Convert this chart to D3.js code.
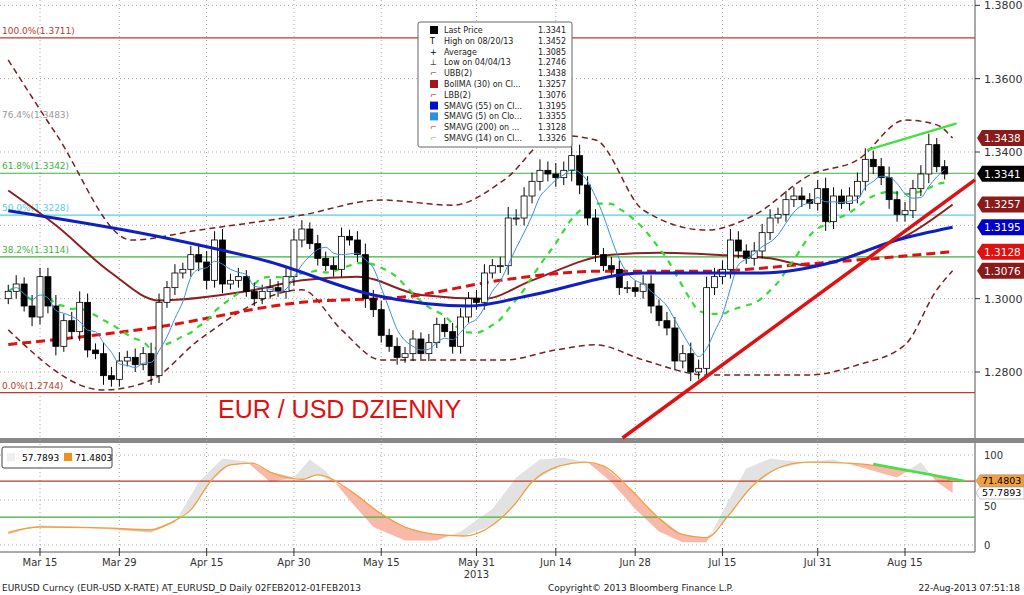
<!DOCTYPE html>
<html><head><meta charset="utf-8">
<script src="https://cdn.jsdelivr.net/npm/d3@7"></script>
<style>body{margin:0;background:#fff}svg{display:block;font-family:"DejaVu Sans",sans-serif}</style>
</head><body><svg id="c" width="1024" height="595"></svg>
<script>
// ---------- data ----------
const closes=[1.302,1.304,1.298,1.295,1.306, 1.298,1.287,1.294,1.291,1.299, 1.286,1.285,1.279,1.278,1.283,
1.284,1.282,1.285,1.279,1.299, 1.303,1.307,1.308,1.312,1.310, 1.305,1.316,1.304,1.305,1.306,
1.302,1.300,1.302,1.303,1.302, 1.306,1.316,1.319,1.315,1.311, 1.309,1.308,1.317,1.316,1.312,
1.300,1.297,1.290,1.287,1.284, 1.285,1.289,1.285,1.288,1.293, 1.291,1.287,1.295,1.300,1.299,
1.307,1.309,1.309,1.322,1.322, 1.328,1.332,1.335,1.334,1.333, 1.335,1.339,1.331,1.322,1.312,
1.309,1.308,1.303,1.303,1.302, 1.304,1.298,1.294,1.292,1.283, 1.285,1.280,1.281,1.303,1.306,
1.308,1.316,1.313,1.311,1.313, 1.318,1.322,1.323,1.327,1.328, 1.327,1.326,1.330,1.321,1.328,
1.326,1.328,1.332,1.338,1.336, 1.333,1.327,1.323,1.324,1.330, 1.334,1.342,1.336,1.334];
const wicks=[3,4,3,5,4, 4,5,3,4,5, 4,3,5,4,4, 3,4,3,5,4, 3,4,3,4,5, 5,4,5,3,4, 3,4,3,4,3,
4,5,4,3,4, 3,4,4,3,4, 5,4,4,3,4, 3,4,3,4,3, 3,4,4,3,4, 4,3,4,5,4, 4,4,5,4,5, 4,6,5,4,4,
3,4,4,3,3, 4,4,3,4,5, 4,5,4,5,4, 4,5,4,3,4, 4,4,3,4,4, 4,3,4,5,4, 3,4,4,5,4, 4,5,4,4,4, 4,5,3,3];
const firstOpen=1.300;
const dateLabels=[["Mar 15",4],["Mar 29",14],["Apr 15",25],["Apr 30",36],["May 15",47],["May 31",59],["Jun 14",69],["Jun 28",79],["Jul 15",90],["Jul 31",102],["Aug 15",113]];
const sma55=[[0,1.324],[20,1.3165],[33,1.310],[46,1.301],[58,1.298],[66,1.301],[80,1.307],[95,1.307],[104,1.310],[112,1.316],[119,1.3195]];
const sma200=[[0,1.2875],[18,1.292],[37,1.299],[50,1.3005],[62,1.305],[75,1.3075],[88,1.3075],[101,1.3095],[119,1.3128]];
const bollMA=[[0,1.3295],[6,1.320],[13,1.307],[19,1.2995],[30,1.302],[37,1.305],[44,1.306],[52,1.301],[60,1.300],[66,1.305],[76,1.312],[82,1.3125],[89,1.312],[96,1.311],[101,1.309],[108,1.313],[113,1.317],[119,1.3257]];
const ubb=[[0,1.3651],[6,1.345],[15.5,1.316],[24,1.3187],[37,1.3228],[47,1.3269],[56,1.3255],[62.5,1.3324],[69,1.3446],[74,1.3433],[80,1.3242],[88,1.3187],[94,1.3228],[101,1.3337],[107,1.3378],[113,1.3487],[117,1.3474],[119,1.3438]];
const lbb=[[0,1.2915],[12,1.2751],[18,1.2778],[24,1.2887],[37,1.3024],[42,1.2915],[47,1.2833],[56,1.2833],[62.5,1.2833],[69,1.2860],[74,1.2874],[80,1.2833],[88,1.2792],[101,1.2792],[107,1.2819],[113,1.2874],[117,1.3024],[119,1.3076]];
const rsiOrange=[[0,14],[4,20],[12,19],[18,17],[20.5,25],[23,39],[25.6,72],[28,89],[30.7,91],[33,81],[37,73],[39,78],[43,61],[46.6,37],[50,20],[53.6,12],[57.4,10],[61,22],[63.8,45],[66,70],[69.5,88],[72.7,92],[75,88],[78.4,62],[81.6,33],[84.8,12],[88,8],[90.5,30],[93.7,65],[96.9,85],[100.7,92],[105.8,91],[109.6,88],[113.4,82],[116.6,78],[119,71.48]];
const rsiGray=[[0,12],[4,22],[12,18],[18,14],[21,25],[24,70],[27,96],[30,93],[33,70],[36,75],[38,95],[40,82],[43,50],[46,20],[50,5],[54,5],[57,15],[61,40],[64,75],[67,95],[70,97],[73,92],[76,70],[79,40],[82,15],[85,3],[88,3],[90.5,45],[93,85],[96,96],[100,92],[104,95],[108,85],[112,75],[115,92],[117,70],[119,57.79]];
const fibs=[["100.0%(1.3711)",1.3711,"#c0392b"],["76.4%(1.3483)",1.3483,"#999"],["61.8%(1.3342)",1.3342,"#3cb33c"],["50.0%(1.3228)",1.3228,"#55d0e0"],["38.2%(1.3114)",1.3114,"#3cb33c"],["0.0%(1.2744)",1.2744,"#c0392b"]];
const priceTicks=[1.38,1.36,1.34,1.32,1.30,1.28];
const legendRows=[["Last Price","1.3341"],["High on 08/20/13","1.3452"],["Average","1.3085"],["Low on 04/04/13","1.2746"],["UBB(2)","1.3438"],["BollMA (30) on Cl...","1.3257"],["LBB(2)","1.3076"],["SMAVG (55) on Cl...","1.3195"],["SMAVG (5) on Clo...","1.3355"],["SMAVG (200) on ...","1.3128"],["SMAVG (14) on Cl...","1.3326"]];
const tagVals=[["1.3438",1.3438,"#8b1a1a"],["1.3341",1.3341,"#000"],["1.3257",1.3257,"#8b1a1a"],["1.3195",1.3195,"#0000c8"],["1.3128",1.3128,"#e01010"],["1.3076",1.3076,"#8b1a1a"]];
// ---------- scales ----------
const svg=d3.select("#c");
const x=d3.scaleLinear().domain([4,113]).range([40,905]);
const y=d3.scaleLinear().domain([1.28,1.34]).range([372,152]);
const ry=d3.scaleLinear().domain([0,100]).range([545,455]);
const R=975;
svg.append("rect").attr("x",0).attr("y",0).attr("width",1024).attr("height",595).attr("fill","#fff");
svg.append("line").attr("x1",R).attr("x2",R).attr("y1",0).attr("y2",552).attr("stroke","#555");
svg.append("rect").attr("x",0).attr("y",438).attr("width",1024).attr("height",5).attr("fill","#888");
svg.append("line").attr("x1",0).attr("x2",R).attr("y1",552).attr("y2",552).attr("stroke","#555");
const gridS="#aaa";
dateLabels.forEach(d=>{
 svg.append("line").attr("x1",x(d[1])).attr("x2",x(d[1])).attr("y1",0).attr("y2",552).attr("stroke",gridS).attr("stroke-dasharray","1,3");
});
priceTicks.forEach(p=>svg.append("line").attr("x1",0).attr("x2",R).attr("y1",y(p)).attr("y2",y(p)).attr("stroke",gridS).attr("stroke-dasharray","1,3"));
[100,50,0].forEach(v=>svg.append("line").attr("x1",0).attr("x2",R).attr("y1",ry(v)).attr("y2",ry(v)).attr("stroke",gridS).attr("stroke-dasharray","1,3"));
fibs.forEach(f=>{
 const yy=y(f[1]);
 if(f[2]!="#999") svg.append("line").attr("x1",0).attr("x2",R).attr("y1",yy).attr("y2",yy).attr("stroke",f[2]).attr("stroke-width",1.2);
 svg.append("text").attr("x",2).attr("y",yy-4).attr("font-size",9).attr("fill",f[2]).text(f[0]);
});
const ln=d3.line().x(d=>x(d[0])).y(d=>y(d[1])).curve(d3.curveMonotoneX);
svg.append("path").attr("d",ln(ubb)).attr("fill","none").attr("stroke","#7a1f1f").attr("stroke-width",1.5).attr("stroke-dasharray","6,4");
svg.append("path").attr("d",ln(lbb)).attr("fill","none").attr("stroke","#7a1f1f").attr("stroke-width",1.5).attr("stroke-dasharray","6,4");
svg.append("path").attr("d",ln(bollMA)).attr("fill","none").attr("stroke","#8b2020").attr("stroke-width",2);
svg.append("path").attr("d",ln(sma200)).attr("fill","none").attr("stroke","#e01010").attr("stroke-width",3).attr("stroke-dasharray","9,5");
const candles=closes.map((c,i)=>{const o=i?closes[i-1]:firstOpen;const w=wicks[i]/1000;return {i,o,c,h:Math.max(o,c)+w*0.6,l:Math.min(o,c)-w*0.5};});
const sma=(n)=>closes.map((c,i)=>[i,d3.mean(closes.slice(Math.max(0,i-n+1),i+1))]);
svg.append("path").attr("d",ln(sma(14))).attr("fill","none").attr("stroke","#33dd33").attr("stroke-width",2.2).attr("stroke-dasharray","6,6");
const cg=svg.append("g");
candles.forEach(d=>{
 cg.append("line").attr("x1",x(d.i)).attr("x2",x(d.i)).attr("y1",y(d.h)).attr("y2",y(d.l)).attr("stroke","#000");
 const t=y(Math.max(d.o,d.c)),b=y(Math.min(d.o,d.c));
 cg.append("rect").attr("x",x(d.i)-3).attr("y",t).attr("width",6).attr("height",Math.max(1,b-t)).attr("fill",d.c>=d.o?"#fff":"#000").attr("stroke","#000").attr("stroke-width",0.8);
});
svg.append("path").attr("d",ln(sma(5))).attr("fill","none").attr("stroke","#3a8fe0").attr("stroke-width",1);
svg.append("path").attr("d",ln(sma55)).attr("fill","none").attr("stroke","#1020c0").attr("stroke-width",3);
svg.append("line").attr("x1",x(77.4)).attr("y1",y(1.262)).attr("x2",R).attr("y2",y(1.3324)).attr("stroke","#e01010").attr("stroke-width",3.5);
svg.append("line").attr("x1",x(108.2)).attr("y1",y(1.3405)).attr("x2",x(119.5)).attr("y2",y(1.3478)).attr("stroke","#44e044").attr("stroke-width",2.5);
svg.append("text").attr("x",218).attr("y",418).attr("font-family","Liberation Sans Narrow, Arial Narrow, sans-serif").attr("font-size",25).attr("fill","#e01010").text("EUR / USD DZIENNY");
priceTicks.forEach(p=>{ if(p===1.32) return;
 svg.append("line").attr("x1",R).attr("x2",R+5).attr("y1",y(p)).attr("y2",y(p)).attr("stroke","#333");
 svg.append("text").attr("x",R+9).attr("y",y(p)+4).attr("font-size",11).attr("fill","#333").text(p.toFixed(4));
});
tagVals.forEach(t=>{
 const yy=y(t[1]);const g=svg.append("g");
 g.append("path").attr("d",`M${R+2},${yy} L${R+7},${yy-8} L${R+49},${yy-8} L${R+49},${yy+8} L${R+7},${yy+8}Z`).attr("fill",t[2]);
 g.append("text").attr("x",R+9).attr("y",yy+4).attr("font-size",10.5).attr("fill","#fff").text(t[0]);
});
const lg=svg.append("g").attr("transform","translate(418,22)");
lg.append("rect").attr("width",154).attr("height",125).attr("fill","#fff").attr("stroke","#666").attr("rx",2);
const sym=["#000",null,null,null,"#8b2020","#a01818","#8b2020","#0010d0","#2a90e0","#e01010","#33dd33"];
legendRows.forEach((r,i)=>{
 const yy=11+i*10.8;
 if(i==0||i==5||i==7||i==8) lg.append("rect").attr("x",12).attr("y",yy-7).attr("width",8).attr("height",8).attr("fill",sym[i]);
 else lg.append("text").attr("x",12).attr("y",yy).attr("font-size",8).attr("fill",sym[i]||"#000").text(i==1?"T":i==2?"+":i==3?"⊥":"⌐");
 lg.append("text").attr("x",26).attr("y",yy).attr("font-size",8).attr("fill","#222").text(r[0]);
 lg.append("text").attr("x",148).attr("y",yy).attr("font-size",8).attr("fill","#222").attr("text-anchor","end").text(r[1]);
});
const interp=(pts,t)=>{for(let k=1;k<pts.length;k++){if(t<=pts[k][0]){const a=pts[k-1],b=pts[k];return a[1]+(b[1]-a[1])*(t-a[0])/(b[0]-a[0]);}}return pts[pts.length-1][1];};
const grid=d3.range(0,119.01,0.25).map(t=>({t,o:interp(rsiOrange,t),g:interp(rsiGray,t)}));
svg.append("path").attr("d",d3.area().x(d=>x(d.t)).y0(d=>ry(d.o)).y1(d=>ry(Math.max(d.o,d.g)))(grid)).attr("fill","#e2e2e2");
svg.append("path").attr("d",d3.area().x(d=>x(d.t)).y0(d=>ry(d.o)).y1(d=>ry(Math.min(d.o,d.g)))(grid)).attr("fill","#f9b9a8");
svg.append("line").attr("x1",0).attr("x2",R).attr("y1",ry(71)).attr("y2",ry(71)).attr("stroke","#c0392b").attr("stroke-width",1.2);
svg.append("line").attr("x1",0).attr("x2",R).attr("y1",ry(31)).attr("y2",ry(31)).attr("stroke","#3cb33c").attr("stroke-width",1.2);
svg.append("path").attr("d",d3.line().x(d=>x(d[0])).y(d=>ry(d[1])).curve(d3.curveMonotoneX)(rsiOrange)).attr("fill","none").attr("stroke","#f0a040").attr("stroke-width",1.3);
svg.append("line").attr("x1",x(109)).attr("y1",ry(90)).attr("x2",x(120.5)).attr("y2",ry(71)).attr("stroke","#44e044").attr("stroke-width",2.5);
[[100,"100",4],[50,"50",10],[0,"0",4]].forEach(v=>svg.append("text").attr("x",R+9).attr("y",ry(v[0])+v[2]).attr("font-size",10).attr("fill","#333").text(v[1]));
[["71.4803",71.48,"#f0a040"],["57.7893",57.79,"#fff"]].forEach(t=>{
 const yy=ry(t[1]);
 svg.append("path").attr("d",`M${R+1},${yy} L${R+5},${yy-6} L${R+49},${yy-6} L${R+49},${yy+6} L${R+5},${yy+6}Z`).attr("fill",t[2]).attr("stroke","#888").attr("stroke-width",0.5);
 svg.append("text").attr("x",R+7).attr("y",yy+3.5).attr("font-size",9.5).attr("fill","#000").text(t[0]);
});
const l2=svg.append("g").attr("transform","translate(2,447)");
l2.append("rect").attr("width",110).attr("height",21).attr("fill","#fff").attr("stroke","#444").attr("rx",2);
l2.append("rect").attr("x",5).attr("y",6).attr("width",8).attr("height",8).attr("fill","#eee");
l2.append("text").attr("x",20).attr("y",14).attr("font-size",9).text("57.7893");
l2.append("rect").attr("x",62).attr("y",6).attr("width",8).attr("height",8).attr("fill","#f0901a");
l2.append("text").attr("x",73).attr("y",14).attr("font-size",9).text("71.4803");
dateLabels.forEach(d=>{
 svg.append("line").attr("x1",x(d[1])).attr("x2",x(d[1])).attr("y1",548).attr("y2",556).attr("stroke","#333");
 svg.append("text").attr("x",x(d[1])).attr("y",566).attr("font-size",10).attr("text-anchor","middle").attr("fill","#333").text(d[0]);
});
svg.append("text").attr("x",x(59)).attr("y",578).attr("font-size",10).attr("text-anchor","middle").attr("fill","#333").text("2013");
svg.append("text").attr("x",2).attr("y",591).attr("font-size",9).attr("fill","#222").text("EURUSD Curncy (EUR-USD X-RATE) AT_EURUSD_D  Daily 02FEB2012-01FEB2013");
svg.append("text").attr("x",548).attr("y",591).attr("font-size",9).attr("fill","#222").text("Copyright© 2013 Bloomberg Finance L.P.");
svg.append("text").attr("x",1020).attr("y",591).attr("font-size",9).attr("fill","#222").attr("text-anchor","end").text("22-Aug-2013 07:51:18");
</script></body></html>
